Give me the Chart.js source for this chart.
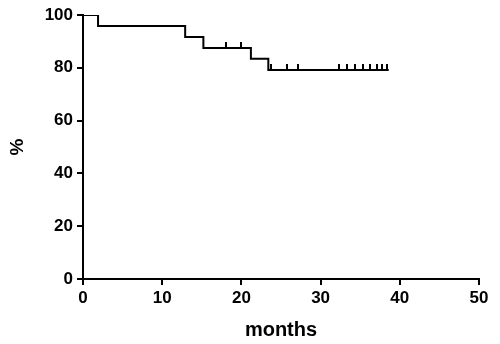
<!DOCTYPE html>
<html>
<head>
<meta charset="utf-8">
<script src="https://cdn.jsdelivr.net/npm/chart.js@4/dist/chart.umd.min.js"></script>
<style>
  html, body { margin: 0; padding: 0; background: #fff; }
  #wrap { width: 500px; height: 344px; }
</style>
</head>
<body>
<div id="wrap"><canvas id="myChart"></canvas></div>
<script>
// Survival steps (months, % surviving after the event)
const eventTimes = [0, 1.9, 12.9, 15.2, 21.2, 23.4, 38.6];
const survival = [100, 95.8, 91.7, 87.5, 83.4, 79.2, 79.2];

// Censored patients (months, % at that time)
const censorTimes = [18.1, 20.0, 23.7, 25.7, 27.1, 32.3, 33.3, 34.3, 35.3, 36.3, 37.1, 37.8, 38.4];
const censorSurvival = [87.5, 87.5, 79.2, 79.2, 79.2, 79.2, 79.2, 79.2, 79.2, 79.2, 79.2, 79.2, 79.2];

const xTicks = [0, 10, 20, 30, 40, 50];
const yTicks = [0, 20, 40, 60, 80, 100];

// Small vertical tick pointing upwards from the curve
const tickMark = document.createElement('canvas');
tickMark.width = 2;
tickMark.height = 12;
const tctx = tickMark.getContext('2d');
tctx.fillStyle = '#000';
tctx.fillRect(0, 0, 2, 6);

const font = { family: 'Liberation Sans, Arial, sans-serif', weight: 'bold' };

const ctx = document.getElementById('myChart').getContext('2d');
const myChart = new Chart(ctx, {
    type: 'line',
    data: {
        datasets: [
            {
                label: 'survival',
                data: eventTimes.map((t, i) => ({ x: t, y: survival[i] })),
                borderColor: '#000',
                borderWidth: 2,
                stepped: true,
                pointRadius: 0,
                fill: false,
            },
            {
                label: 'censored',
                type: 'scatter',
                data: censorTimes.map((t, i) => ({ x: t, y: censorSurvival[i] })),
                pointStyle: tickMark,
                pointRadius: 6,
            },
        ],
    },
    options: {
        responsive: true,
        maintainAspectRatio: false,
        animation: false,
        layout: { padding: { top: 15, right: 21, left: 0, bottom: 0 } },
        plugins: {
            legend: { display: false },
            tooltip: { enabled: false },
        },
        scales: {
            x: {
                type: 'linear',
                min: 0,
                max: 50,
                afterBuildTicks: function(scale) {
                    scale.ticks = xTicks.map(v => ({ value: v }));
                },
                afterFit: function(scale) { scale.height = 65; },
                title: {
                    display: true,
                    text: 'months',
                    color: '#000',
                    font: Object.assign({ size: 20 }, font),
                    padding: { top: 0, bottom: 2 },
                },
                ticks: {
                    color: '#000',
                    font: Object.assign({ size: 17 }, font),
                    maxRotation: 0,
                    padding: 3,
                },
                grid: {
                    drawOnChartArea: false,
                    color: '#000',
                    lineWidth: 2,
                    tickLength: 6,
                },
                border: { color: '#000', width: 2 },
            },
            y: {
                min: 0,
                max: 100,
                afterBuildTicks: function(scale) {
                    scale.ticks = yTicks.map(v => ({ value: v }));
                },
                afterFit: function(scale) { scale.width = 83; },
                title: {
                    display: true,
                    text: '%',
                    color: '#000',
                    font: Object.assign({ size: 19 }, font),
                    padding: { top: 6, bottom: 0 },
                },
                ticks: {
                    color: '#000',
                    font: Object.assign({ size: 17 }, font),
                    padding: 4,
                },
                grid: {
                    drawOnChartArea: false,
                    color: '#000',
                    lineWidth: 2,
                    tickLength: 6,
                },
                border: { color: '#000', width: 2 },
            }
        }
    }
});
</script>
</body>
</html>
